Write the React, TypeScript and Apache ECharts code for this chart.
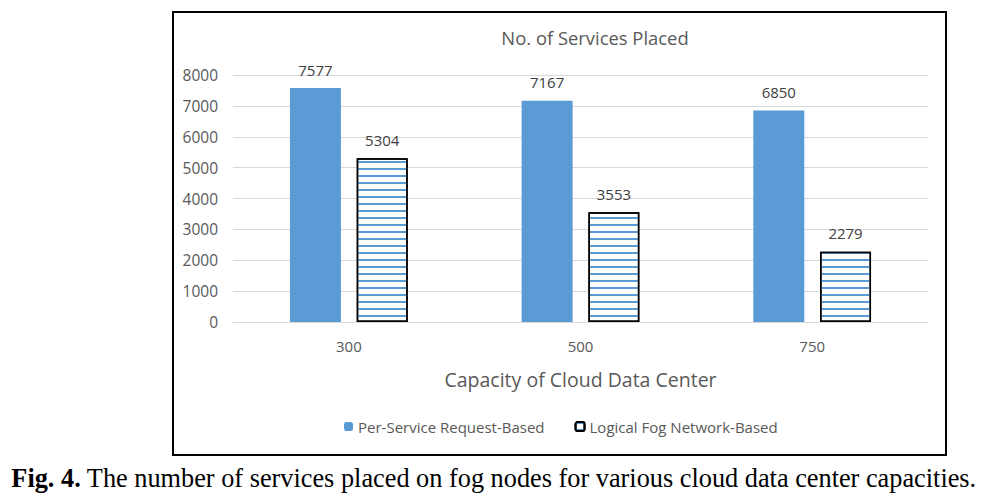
import React, { useEffect, useRef } from "react";
import * as echarts from "echarts";

const categories = ["300", "500", "750"];
const perServiceValues = [7577, 7167, 6850];
const logicalFogValues = [5304, 3553, 2279];
const seriesNames = ["Per-Service Request-Based", "Logical Fog Network-Based"];
const yTicks = { min: 0, max: 8000, interval: 1000 };

export default function App() {
  const ref = useRef<HTMLDivElement>(null);
  useEffect(() => {
    const chart = echarts.init(ref.current!, undefined, { renderer: "svg" });
    const font = "'Open Sans', Lato, sans-serif";
    const serif = "'Liberation Serif', 'DejaVu Serif', serif";
    chart.setOption({
      animation: false,
      backgroundColor: "#ffffff",
      title: {
        text: "No. of Services Placed",
        left: 590,
        textAlign: "center",
        top: 23,
        textStyle: { fontFamily: font, fontSize: 18.4, fontWeight: "normal", color: "#595959" },
      },
      grid: { left: 233, right: 60, top: 75, bottom: 178 },
      legend: {
        data: seriesNames,
        bottom: 61,
        left: 339,
        itemWidth: 9,
        itemHeight: 9,
        itemGap: 30,
        textStyle: { fontFamily: font, fontSize: 15, color: "#595959" },
      },
      xAxis: {
        type: "category",
        data: categories,
        axisLine: { lineStyle: { color: "#d9d9d9" } },
        axisTick: { show: false },
        axisLabel: { fontFamily: font, fontSize: 15, color: "#595959", margin: 16 },
        name: "Capacity of Cloud Data Center",
        nameLocation: "middle",
        nameGap: 47,
        nameTextStyle: { fontFamily: font, fontSize: 19.5, color: "#595959" },
      },
      yAxis: {
        type: "value",
        min: yTicks.min,
        max: yTicks.max,
        interval: yTicks.interval,
        axisLine: { show: false },
        axisTick: { show: false },
        splitLine: { lineStyle: { color: "#d9d9d9" } },
        axisLabel: {
          fontFamily: font,
          fontSize: 15.5,
          color: "#595959",
          margin: 15,
          formatter: (v: number) => String(v),
        },
      },
      series: [
        {
          name: seriesNames[0],
          type: "bar",
          data: perServiceValues,
          barWidth: "22%",
          barGap: "31%",
          itemStyle: { color: "#5b9bd5" },
          label: {
            show: true,
            position: "top",
            distance: 11,
            fontFamily: font,
            fontSize: 15,
            color: "#404040",
          },
        },
        {
          name: seriesNames[1],
          type: "bar",
          data: logicalFogValues,
          barWidth: "22%",
          itemStyle: {
            color: "#ffffff",
            borderColor: "#000000",
            borderWidth: 1.5,
            decal: {
              symbol: "rect",
              symbolSize: 1,
              color: "#5b9bd5",
              dashArrayX: [1, 0],
              dashArrayY: [1.5, 4.8],
              rotation: 0,
            },
          },
          label: {
            show: true,
            position: "top",
            distance: 11,
            fontFamily: font,
            fontSize: 15,
            color: "#404040",
          },
        },
      ],
      graphic: [
        {
          type: "rect",
          shape: { x: 173, y: 12, width: 773, height: 443 },
          style: { fill: "none", stroke: "#000000", lineWidth: 2 },
          silent: true,
        },
        {
          type: "text",
          left: "center",
          top: 465,
          style: {
            text: "{b|Fig. 4.} The number of services placed on fog nodes for various cloud data center capacities.",
            fontFamily: serif,
            fontSize: 26.3,
            fill: "#000000",
            rich: {
              b: {
                fontFamily: serif,
                fontSize: 26.3,
                fontWeight: "bold",
                fill: "#000000",
              },
            },
          },
        },
      ],
    });
    return () => chart.dispose();
  }, []);
  return (
    <div
      ref={ref}
      style={{ position: "absolute", left: 0, top: 0, width: 988, height: 500 }}
    />
  );
}
